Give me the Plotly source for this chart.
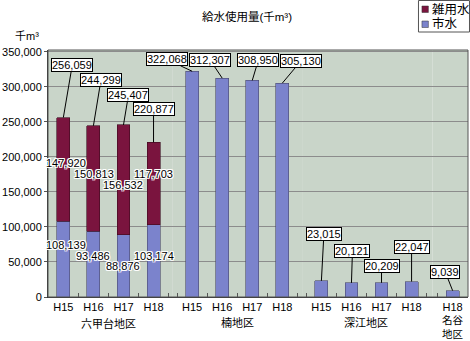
import plotly.graph_objects as go

# ---------------- data ----------------
rokko_years = ["H15", "H16", "H17", "H18"]
rokko_city = [108139, 93486, 88876, 103174]
rokko_misc = [147920, 150813, 156532, 117703]
rokko_total = [256059, 244299, 245407, 220877]

kusu_years = ["H15", "H16", "H17", "H18"]
kusu_city = [322068, 312307, 308950, 305130]

fukae_years = ["H15", "H16", "H17", "H18"]
fukae_city = [23015, 20121, 20209, 22047]

myodani_years = ["H18"]
myodani_city = [9039]

group_names = ["六甲台地区", "楠地区", "深江地区", "名谷<br>地区"]
series_names = ["市水", "雑用水"]
title_text = "給水使用量(千m³)"
unit_text = "千m³"

y_ticks = [0, 50000, 100000, 150000, 200000, 250000, 300000, 350000]

groups = [
    dict(years=rokko_years, city=rokko_city, misc=rokko_misc, total=rokko_total),
    dict(years=kusu_years, city=kusu_city, misc=None, total=kusu_city),
    dict(years=fukae_years, city=fukae_city, misc=None, total=fukae_city),
    dict(years=myodani_years, city=myodani_city, misc=None, total=myodani_city),
]

# ---------------- styling / geometry ----------------
W, H = 470, 341
ML, MR, MT, MB = 44, 2, 50, 44
PW = W - ML - MR
PH = H - MT - MB
CAT_PX = 30.35
dom_px = [44, 170, 300.5, 432, 468]          # subplot boundaries (px)
first_center_px = [59.5, 189.5, 320, 452.5]  # first category centre (px)

CITY_COLOR = "#7b83cc"
MISC_COLOR = "#7a143e"
BG = "#c9d5c9"
GRID = "#8c8c8c"
FONT = "Liberation Sans, Arial, Noto Sans CJK JP, sans-serif"
HALO = "-1px -1px 0 white, 1px -1px 0 white, -1px 1px 0 white, 1px 1px 0 white, 0 1px 0 white, 0 -1px 0 white, 1px 0 0 white, -1px 0 0 white"

callout_off = [
    [(9, -53), (7.5, -45.5), (5, -30), (0, -33)],
    [(-25.5, -12), (-12, -18), (6, -20), (18.5, -22)],
    [(2.5, -47), (1, -32), (0, -17), (0, -34.5)],
    [(-7.5, -19)],
]
misc_shift = [(2.5, 6.5), (0.5, 5), (0, -5), (0, 9.6)]
city_shift = [(2.5, 14), (-0.5, 8), (0, 0), (0, 5)]


def px_x(p):
    return (p - ML) / PW


def px_y(p):
    return 1 - (p - MT) / PH


fig = go.Figure()
annotations = []
shapes = []
layout_axes = {}

for gi, g in enumerate(groups):
    xa = "x" if gi == 0 else f"x{gi+1}"
    xkey = "xaxis" if gi == 0 else f"xaxis{gi+1}"
    fig.add_trace(go.Bar(
        x=g["years"], y=g["city"], name=series_names[0], xaxis=xa, yaxis="y",
        marker=dict(color=CITY_COLOR, line=dict(color="#4a4a6a", width=0.6)),
        showlegend=False, hoverinfo="x+y",
    ))
    if g["misc"] is not None:
        fig.add_trace(go.Bar(
            x=g["years"], y=g["misc"], name=series_names[1], xaxis=xa, yaxis="y",
            marker=dict(color=MISC_COLOR, line=dict(color="#3a0a1e", width=0.6)),
            showlegend=False, hoverinfo="x+y",
        ))
    d0 = px_x(dom_px[gi])
    d1 = px_x(dom_px[gi + 1])
    w_px = dom_px[gi + 1] - dom_px[gi]
    r0 = -(first_center_px[gi] - dom_px[gi]) / CAT_PX
    r1 = r0 + w_px / CAT_PX
    layout_axes[xkey] = dict(
        domain=[d0, min(d1, 1.0)], anchor="y", type="category",
        range=[r0, r1], showgrid=False, showline=True, linecolor="#333",
        linewidth=1, ticks="inside", ticklen=4, tickcolor="#555",
        tickson="boundaries", tickangle=0,
        tickfont=dict(size=11, color="#000", family=FONT),
        fixedrange=True,
    )
    # group label
    n = len(g["years"])
    multi = "<br>" in group_names[gi]
    annotations.append(dict(
        x=(n - 1) / 2, xref=xa, y=0, yref="paper",
        yanchor="bottom" if multi else "top",
        yshift=-MB if multi else -19, borderpad=0,
        text=group_names[gi], showarrow=False,
        font=dict(size=10.5 if multi else 11, color="#000", family=FONT),
    ))
    # callouts
    for i, (yr, tot) in enumerate(zip(g["years"], g["total"])):
        ax, ay = callout_off[gi][i]
        annotations.append(dict(
            x=yr, xref=xa, y=tot, yref="y", text=f"{tot:,}",
            showarrow=True, arrowhead=0, arrowwidth=1, arrowcolor="#000",
            ax=ax, ay=ay, bgcolor="white", bordercolor="#000", borderwidth=1,
            borderpad=0, font=dict(size=11, color="#000", family=FONT),
        ))
    # inside labels for stacked group
    if g["misc"] is not None:
        for i, yr in enumerate(g["years"]):
            c, m = g["city"][i], g["misc"][i]
            dx, dy = city_shift[i]
            annotations.append(dict(
                x=yr, xref=xa, y=c / 2, yref="y", text=f"{c:,}", showarrow=False,
                xshift=dx, yshift=dy,
                font=dict(size=11, color="#000", family=FONT, shadow=HALO),
            ))
            dx, dy = misc_shift[i]
            annotations.append(dict(
                x=yr, xref=xa, y=c + m / 2, yref="y", text=f"{m:,}", showarrow=False,
                xshift=dx, yshift=dy,
                font=dict(size=11, color="#000", family=FONT, shadow=HALO),
            ))

# unit label
annotations.append(dict(
    x=0, xref="paper", y=1, yref="paper", xanchor="right", yanchor="bottom",
    xshift=-7, yshift=6, text=unit_text, showarrow=False,
    font=dict(size=11, color="#000", family=FONT),
))

# legend (drawn box: 雑用水 on top, 市水 below)
leg_box = (418, 0, 470, 32)
shapes.append(dict(type="rect", xref="paper", yref="paper",
                   x0=px_x(leg_box[0]), x1=px_x(leg_box[2] - 0.5),
                   y0=px_y(leg_box[3]), y1=px_y(leg_box[1] + 0.5),
                   line=dict(color="#555", width=1), fillcolor="white"))
for k, (label, col) in enumerate([(series_names[1], MISC_COLOR), (series_names[0], CITY_COLOR)]):
    cy = 9 + 15 * k
    shapes.append(dict(type="rect", xref="paper", yref="paper",
                       x0=px_x(421.5), x1=px_x(428), y0=px_y(cy + 3.5), y1=px_y(cy - 3),
                       line=dict(color="#333", width=0.5), fillcolor=col))
    annotations.append(dict(x=px_x(429.5), xref="paper", y=px_y(cy), yref="paper",
                            xanchor="left", yanchor="middle", text=label,
                            showarrow=False,
                            font=dict(size=12.5, color="#000", family=FONT)))

# plot border
shapes.append(dict(type="rect", xref="paper", yref="paper", x0=0, x1=1, y0=0, y1=1,
                   line=dict(color="#555", width=1), fillcolor="rgba(0,0,0,0)",
                   layer="above"))

fig.update_layout(
    width=W, height=H,
    margin=dict(l=ML, r=MR, t=MT, b=MB, pad=0),
    paper_bgcolor="white", plot_bgcolor=BG,
    barmode="stack", bargap=0.57,
    font=dict(family=FONT, size=11, color="#000"),
    title=dict(text=title_text, x=247 / W, xanchor="center", y=1 - 17 / H,
               yanchor="middle", font=dict(size=11.5, color="#000", family=FONT)),
    yaxis=dict(
        range=[0, 352400], tickvals=y_ticks, tickformat=",", showgrid=True,
        gridcolor=GRID, gridwidth=1, zeroline=False, showline=True,
        linecolor="#333", linewidth=1, ticks="outside", ticklen=3,
        tickcolor="#555", tickfont=dict(size=11, color="#000", family=FONT),
        anchor="x", fixedrange=True,
    ),
    showlegend=False,
    annotations=annotations,
    shapes=shapes,
    **layout_axes,
)

fig.write_html("out.html", config={"displayModeBar": False})
